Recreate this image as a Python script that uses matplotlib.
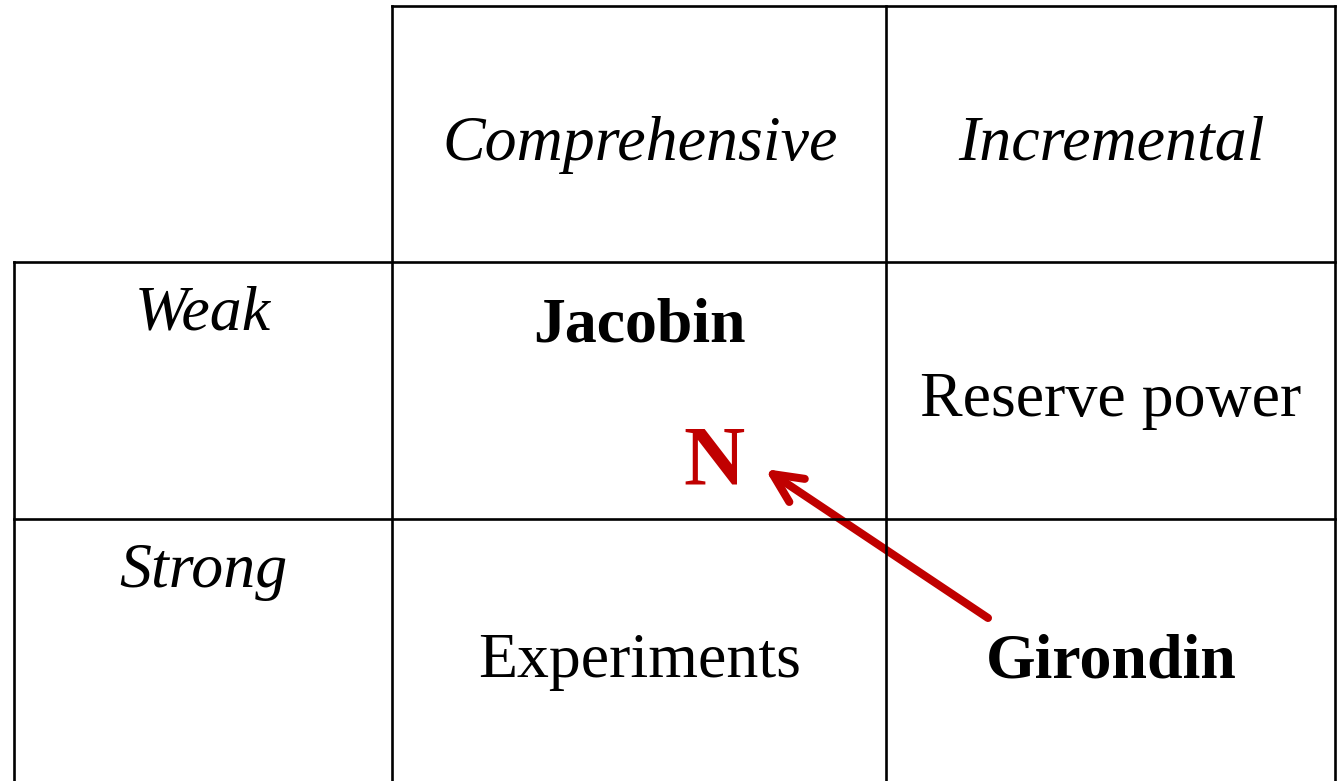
import matplotlib.pyplot as plt
from matplotlib.patches import FancyArrowPatch

# table content
col_labels = ["Comprehensive", "Incremental"]
row_labels = ["Weak", "Strong"]
cells = [
    [("Jacobin", "bold"), ("Reserve power", "normal")],
    [("Experiments", "normal"), ("Girondin", "bold")],
]
marker_label = "N"

W, H = 1337, 781
RED = "#C00000"

# grid layout, in pixels
col_edges = [14, 392, 886, 1335]
row_edges = [6, 262, 519, H]
col_centers = [203, 640, 1111]
header_base = 160
row_label_base = [329, 587]
cell_base = [[342, 416], [677, 677]]

fig = plt.figure(figsize=(W / 100, H / 100), dpi=100)
ax = fig.add_axes([0, 0, 1, 1])
ax.set_xlim(0, W)
ax.set_ylim(H, 0)
ax.axis("off")

lw = 1.9
# horizontal lines
ax.plot([col_edges[1], col_edges[3]], [row_edges[0]] * 2, color="black", lw=lw)
for y in row_edges[1:3]:
    ax.plot([col_edges[0], col_edges[3]], [y, y], color="black", lw=lw)
# vertical lines
ax.plot([col_edges[0]] * 2, [row_edges[1], H], color="black", lw=lw)
for x in col_edges[1:]:
    ax.plot([x, x], [row_edges[0], H], color="black", lw=lw)

font = "Liberation Serif"
fs = 46

for i, lab in enumerate(col_labels):
    ax.text(col_centers[i + 1], header_base, lab, ha="center", va="baseline",
            fontsize=fs, style="italic", family=font)

for i, lab in enumerate(row_labels):
    ax.text(col_centers[0], row_label_base[i], lab, ha="center", va="baseline",
            fontsize=fs, style="italic", family=font)

for r, row in enumerate(cells):
    for c, (txt, weight) in enumerate(row):
        ax.text(col_centers[c + 1], cell_base[r][c], txt, ha="center", va="baseline",
                fontsize=fs, fontweight=weight, family=font)

ax.text(714, 484, marker_label, ha="center", va="baseline", fontsize=61,
        fontweight="bold", color=RED, family=font)

arrow = FancyArrowPatch(
    (988, 618), (765, 469),
    arrowstyle="->,head_length=1.05,head_width=0.5",
    mutation_scale=20, color=RED, lw=5.8,
    capstyle="round", joinstyle="round", shrinkA=0, shrinkB=0,
)
ax.add_patch(arrow)

fig.savefig("out.png", dpi=100)
